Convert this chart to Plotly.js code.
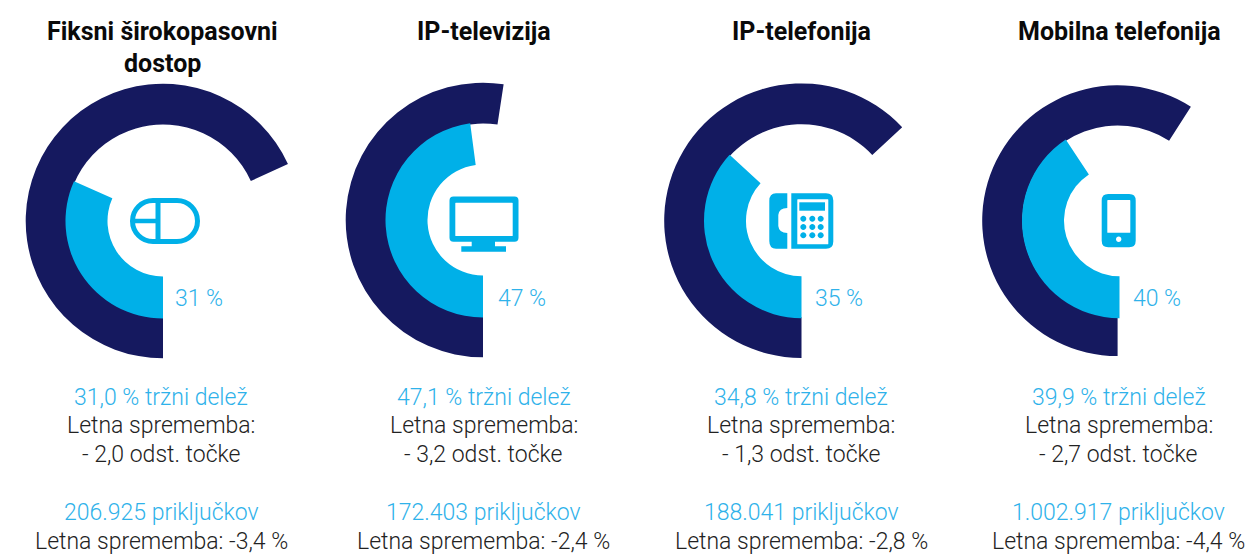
<!DOCTYPE html>
<html>
<head>
<meta charset="utf-8">
<script src="https://cdn.plot.ly/plotly-3.0.1.min.js"></script>
<style>html,body{margin:0;padding:0;background:#fff}#chart{width:1253px;height:554px}</style>
</head>
<body>
<div id="chart"></div>
<script>
// ---- data ----
const titles = [["Fiksni širokopasovni","dostop"],["IP-televizija"],["IP-telefonija"],["Mobilna telefonija"]];
const innerShare = [31.7, 47.9, 36.8, 40.7];
const innerRest  = [68.3, 52.1, 63.2, 59.3];
const outerShare = [68.2, 52.4, 63.1, 59.1];
const outerRest  = [31.8, 47.6, 36.9, 40.9];
const percentLabels = ["31 %","47 %","35 %","40 %"];
const shareLabels = ["31,0 % tržni delež","47,1 % tržni delež","34,8 % tržni delež","39,9 % tržni delež"];
const changeHead = "Letna sprememba:";
const shareChanges = ["- 2,0 odst. točke","- 3,2 odst. točke","- 1,3 odst. točke","- 2,7 odst. točke"];
const connections = ["206.925 priključkov","172.403 priključkov","188.041 priključkov","1.002.917 priključkov"];
const connectionChanges = ["Letna sprememba: -3,4 %","Letna sprememba: -2,4 %","Letna sprememba: -2,8 %","Letna sprememba: -4,4 %"];

// ---- layout constants ----
const W = 1253, H = 554;
const NAVY = "#15195f", CYAN = "#00b0e8", TXTBLUE = "#2fb2ea", TXTDARK = "#222222";
const NONE = "rgba(0,0,0,0)";
const centersX = [163, 483, 801.5, 1119.5];
const centersY = [221, 220, 220.7, 220.7];
const textX = [161, 483.5, 801, 1118.5];
const titleX = [162, 483.5, 801.5, 1119];
const percentX = [199, 521.5, 839, 1156.5];
const R_OUT = 137.3, R_OUT_IN = 96.5, R_IN = 97.5, R_IN_IN = 55.5;

function domain(cx, cy, r){
  return {x:[(cx-r)/W,(cx+r)/W], y:[1-(cy+r)/H,1-(cy-r)/H]};
}
const data = [];
centersX.forEach((cx,i)=>{
  data.push({type:"pie",sort:false,direction:"clockwise",rotation:180,
    values:[outerShare[i],outerRest[i]],labels:["a","b"],hole:R_OUT_IN/R_OUT,
    domain:domain(cx,centersY[i],R_OUT),textinfo:"none",hoverinfo:"skip",showlegend:false,
    marker:{colors:[NAVY,NONE],line:{width:0}}});
  data.push({type:"pie",sort:false,direction:"clockwise",rotation:180,
    values:[innerShare[i],innerRest[i]],labels:["a","b"],hole:R_IN_IN/R_IN,
    domain:domain(cx,centersY[i],R_IN),textinfo:"none",hoverinfo:"skip",showlegend:false,
    marker:{colors:[CYAN,NONE],line:{width:0}}});
});

function note(text,x,y,size,color,family,weight){
  return {text,x:x/W,y:1-y/H,xref:"paper",yref:"paper",xanchor:"center",yanchor:"middle",
    showarrow:false,font:{family,size,color,weight}};
}
const BODY = "Roboto, sans-serif";
const annotations = [];
titles.forEach((lines,i)=>lines.forEach((t,j)=>annotations.push(
  note(t,titleX[i],31+j*32,25,"#0a0a0a",BODY,700))));
centersX.forEach((cx,i)=>{
  annotations.push(note(percentLabels[i],percentX[i],298,23,TXTBLUE,BODY,300));
  annotations.push(note(shareLabels[i],textX[i],397,23,TXTBLUE,BODY,300));
  annotations.push(note(changeHead,textX[i],425,23,TXTDARK,BODY,300));
  annotations.push(note(shareChanges[i],textX[i],454,23,TXTDARK,BODY,300));
  annotations.push(note(connections[i],textX[i],512,23,TXTBLUE,BODY,300));
  annotations.push(note(connectionChanges[i],textX[i],541,23,TXTDARK,BODY,300));
});

// ---- icons (decoration), written in page pixels, converted to paper fractions ----
function toPaper(path){
  let isX = true;
  return path.replace(/-?\d+(\.\d+)?/g, m=>{
    const v = parseFloat(m);
    const out = isX ? v/W : 1-v/H;
    isX = !isX;
    return out.toFixed(6);
  });
}
function rr(x0,y0,x1,y1,r){
  return `M${x0+r} ${y0}L${x1-r} ${y0}Q${x1} ${y0} ${x1} ${y0+r}L${x1} ${y1-r}Q${x1} ${y1} ${x1-r} ${y1}L${x0+r} ${y1}Q${x0} ${y1} ${x0} ${y1-r}L${x0} ${y0+r}Q${x0} ${y0} ${x0+r} ${y0}Z`;
}
function stadium(x0,y0,x1,y1){
  const r=(y1-y0)/2, k=r*0.5523;
  return `M${x0+r} ${y0}L${x1-r} ${y0}C${x1-r+k} ${y0} ${x1} ${y0+r-k} ${x1} ${y0+r}C${x1} ${y0+r+k} ${x1-r+k} ${y1} ${x1-r} ${y1}L${x0+r} ${y1}C${x0+r-k} ${y1} ${x0} ${y0+r+k} ${x0} ${y0+r}C${x0} ${y0+r-k} ${x0+r-k} ${y0} ${x0+r} ${y0}Z`;
}
function dot(cx,cy,r){
  const k=r*0.5523;
  return `M${cx-r} ${cy}C${cx-r} ${cy-k} ${cx-k} ${cy-r} ${cx} ${cy-r}C${cx+k} ${cy-r} ${cx+r} ${cy-k} ${cx+r} ${cy}C${cx+r} ${cy+k} ${cx+k} ${cy+r} ${cx} ${cy+r}C${cx-k} ${cy+r} ${cx-r} ${cy+k} ${cx-r} ${cy}Z`;
}
function filled(p){
  return {type:"path",xref:"paper",yref:"paper",path:toPaper(p),fillcolor:CYAN,fillrule:"evenodd",line:{width:0},layer:"above"};
}
function stroked(p,w){
  return {type:"path",xref:"paper",yref:"paper",path:toPaper(p),fillcolor:NONE,line:{color:CYAN,width:w},layer:"above"};
}
const shapes = [
  // mouse
  stroked(stadium(132.5,200.5,197.5,241.5),5),
  stroked("M158 200.5L158 241.5",5),
  stroked("M133 221L158 221",4.5),
  // TV
  filled(rr(449.5,196.5,518.5,241.8,4)+rr(455.3,202.7,512.7,236,0.5)),
  filled("M471.7 241L495 241L495 246.2L506 246.2L506 251.7L461.3 251.7L461.3 246.2L471.7 246.2Z"),
  // telephone handset
  filled("M787.3 193.3L787.3 208Q779 208 778.3 215L778.3 226Q779 233 787.3 233L787.3 248.7L776 248.7Q769.3 248.7 769.3 241L769.3 201Q769.3 193.3 776 193.3Z"),
  // telephone body
  filled("M791.3 193.3L826 193.3Q833.3 193.3 833.3 200.5L833.3 241.5Q833.3 248.7 826 248.7L791.3 248.7Z"+
         rr(797.3,199.3,828.3,244.3,0.5)),
  filled("M799.3 202.3L825 202.3L825 210.7L799.3 210.7Z"),
  // mobile
  filled(rr(1101.7,194,1135.7,247.3,6.5)+rr(1107.3,200,1130.3,232.7,0.5)+dot(1118.7,239.3,2.7))
];
[803.3,812.3,820.7].forEach(x=>[218.7,227,235.3].forEach(y=>shapes.push(filled(dot(x,y,3)))));

const layout = {width:W,height:H,margin:{l:0,r:0,t:0,b:0,pad:0},paper_bgcolor:"#fff",plot_bgcolor:"#fff",
  showlegend:false,annotations,shapes};
Plotly.newPlot("chart",data,layout,{displayModeBar:false,responsive:false,staticPlot:true});
</script>
</body>
</html>
